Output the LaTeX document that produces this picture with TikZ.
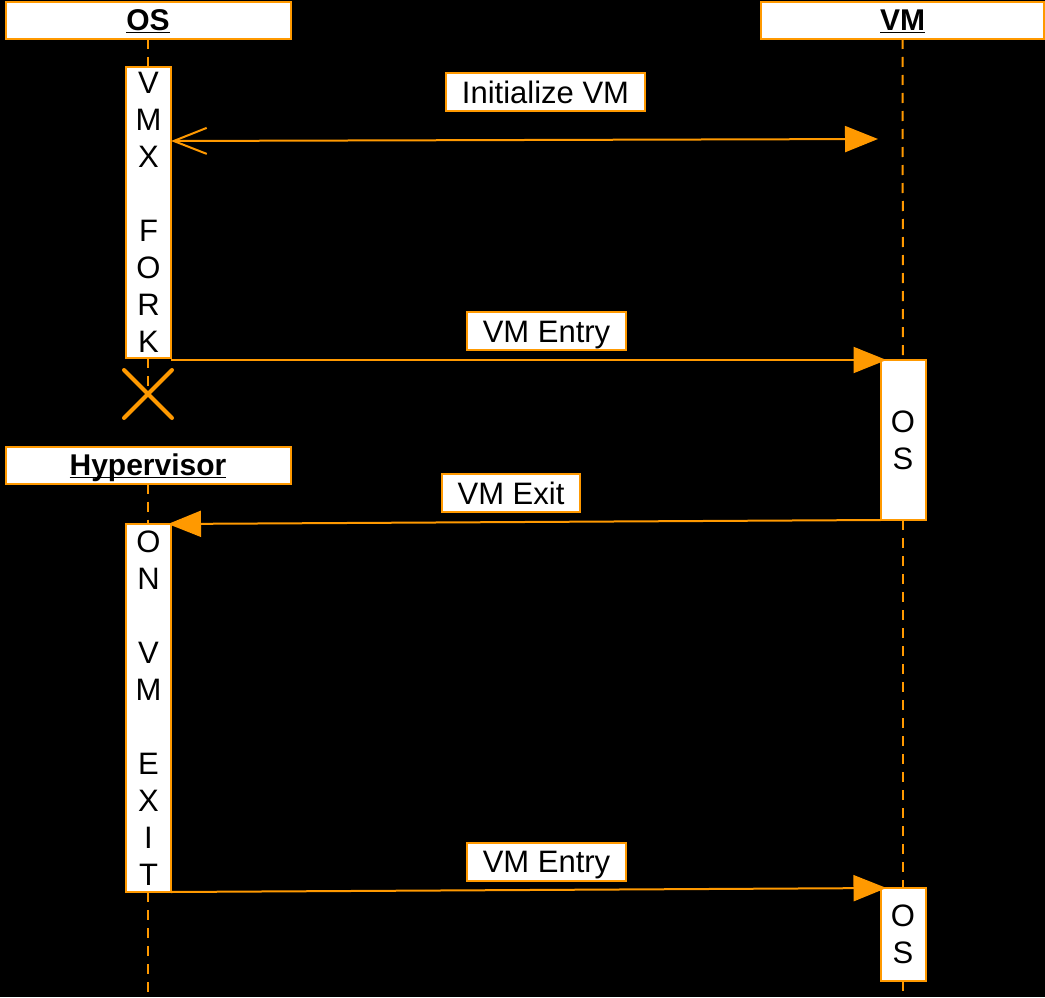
\documentclass[tikz,border=0pt]{standalone}
\usepackage{fontspec}
\setmainfont{Liberation Sans}
\usetikzlibrary{arrows.meta}
\definecolor{umlorange}{HTML}{FF9900}
% underline at a fixed distance below the baseline, through any descenders
\newcommand{\headline}[1]{\underline{\smash{#1}}}
\begin{document}
\begin{tikzpicture}[x=1pt,y=-1pt,
  box/.style={draw=umlorange, fill=white, line width=2pt, inner sep=0pt, outer sep=0pt},
  head/.style={box, minimum height=37pt, text height=21pt, text depth=0pt,
    font=\fontsize{30}{36}\selectfont\bfseries},
  act/.style={box, minimum width=45pt, anchor=north},
  letters/.style={align=center, inner sep=0pt, font=\fontsize{31}{37}\selectfont},
  msglabel/.style={box, minimum height=38pt, text height=22pt, text depth=0pt,
    font=\fontsize{31}{37}\selectfont},
  lifeline/.style={umlorange, line width=2pt, dash pattern=on 10pt off 8pt},
  msg/.style={umlorange, line width=2pt, -{Triangle[length=33pt,width=26pt]}},
  reply/.style={umlorange, line width=2pt,
    {Straight Barb[length=33pt,width=26pt]}-{Triangle[length=33pt,width=26pt]}},
]
% canvas
\fill[black] (0,0) rectangle (1045,997);

% participants
\node[head, minimum width=285pt] (os)  at (148,20.5)  {\headline{OS}};
\node[head, minimum width=283pt] (vm)  at (902.5,20.5) {\headline{VM}};
\node[head, minimum width=285pt] (hyp) at (148,465)   {\headline{Hypervisor}};

% activation bars
\node[act, minimum height=291pt] (vmx)    at (148.5,67) {};
\node[letters] at (vmx) {V\\M\\X\\\mbox{}\\F\\O\\R\\K};
\node[act, minimum height=368pt] (onexit) at (148.5,524) {};
\node[letters] at (onexit) {O\\N\\\mbox{}\\V\\M\\\mbox{}\\E\\X\\I\\T};
\node[act, minimum height=160pt] (guest1) at (903,360) {};
\node[letters] at (guest1) {O\\S};
\node[act, minimum height=93pt]  (guest2) at (903,888) {};
\node[letters] at (guest2) {O\\S};

% lifeline ends and destruction mark
\coordinate (destroy) at (148,394);
\coordinate (osbottom) at (148,997);
\coordinate (vmbottom) at (903,997);

\draw[lifeline] (os.south -| destroy) -- (destroy |- vmx.north);
\draw[lifeline] (destroy |- vmx.south) -- (destroy);
\draw[lifeline] (hyp.south -| destroy) -- (destroy |- onexit.north);
\draw[lifeline] (destroy |- onexit.south) -- (osbottom);
\draw[lifeline] (vm.south) -- (guest1.north);
\draw[lifeline] (guest1.south) -- (guest2.north);
\draw[lifeline] (guest2.south) -- (vmbottom);

\draw[umlorange, line width=4pt, line cap=round]
  ([shift={(-24,-24)}]destroy) -- ([shift={(24,24)}]destroy)
  ([shift={(-24,24)}]destroy) -- ([shift={(24,-24)}]destroy);

% messages
\coordinate (initstart) at (171,141);
\coordinate (initend) at (878,139);
\draw[reply] (initstart) -- (initend);
\node[msglabel, minimum width=199pt] (l1) at (545.5,92) {Initialize VM};

\draw[msg] (vmx.east |- guest1.north west) -- ([xshift=6pt]guest1.north west);
\node[msglabel, minimum width=159pt] (l2) at (546.5,331) {VM Entry};

\draw[msg] (guest1.south west) -- ([xshift=-3pt]onexit.north east);
\node[msglabel, minimum width=138pt] (l3) at (511,493) {VM Exit};

\draw[msg] (onexit.south east) -- ([xshift=6pt]guest2.north west);
\node[msglabel, minimum width=159pt] (l4) at (546.5,861.5) {VM Entry};
\end{tikzpicture}
\end{document}
